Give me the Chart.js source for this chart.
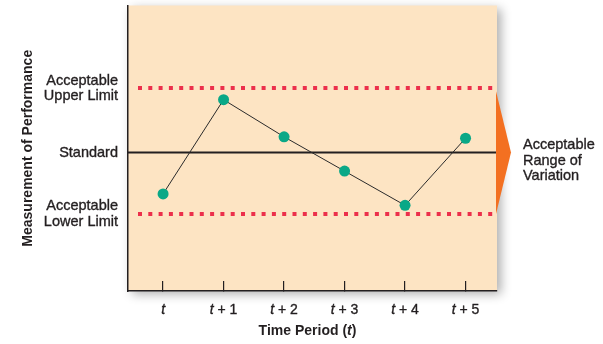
<!DOCTYPE html>
<html>
<head>
<meta charset="utf-8">
<script src="https://cdn.jsdelivr.net/npm/chart.js@4/dist/chart.umd.min.js"></script>
<style>
  body { margin: 0; background: #fff; }
</style>
</head>
<body>
<canvas id="controlChart" width="603" height="344"></canvas>
<script>
// Time periods along the bottom and measured performance in each period
const periodLabels = ['t', 't + 1', 't + 2', 't + 3', 't + 4', 't + 5'];
const performance = [34, 67, 54, 42, 30, 53.5];

// Control limits on the performance scale
const upperLimit = 71;
const standardLevel = 48.5;
const lowerLimit = 27;
const limitTickValues = [lowerLimit, standardLevel, upperLimit];
const limitTickLabels = [['Acceptable', 'Lower Limit'], 'Standard', ['Acceptable', 'Upper Limit']];
const rangeLabel = ['Acceptable', 'Range of', 'Variation'];

const FONT = "'Liberation Sans', Arial, Helvetica, sans-serif";
const INK = '#231f20';
const PANEL = '#fde4c3';
const LABEL_SIZE = 14.5;

// Peach panel with a soft drop shadow behind the plot
const panelPlugin = {
  id: 'panel',
  beforeDraw(chart) {
    const { ctx, chartArea: a } = chart;
    ctx.save();
    ctx.shadowColor = 'rgba(0,0,0,0.32)';
    ctx.shadowBlur = 10;
    ctx.shadowOffsetX = 4;
    ctx.shadowOffsetY = 3;
    ctx.fillStyle = PANEL;
    ctx.fillRect(a.left, a.top, a.right - a.left, a.bottom - a.top);
    ctx.restore();
  }
};

// Standard line and dotted upper/lower limits
const limitsPlugin = {
  id: 'limits',
  beforeDatasetsDraw(chart) {
    const { ctx, chartArea: a, scales: { y } } = chart;
    ctx.save();
    ctx.strokeStyle = '#ec2f4b';
    ctx.lineWidth = 4;
    ctx.setLineDash([4, 6.3]);
    ctx.lineCap = 'butt';
    [upperLimit, lowerLimit].forEach(v => {
      const py = Math.round(y.getPixelForValue(v));
      ctx.beginPath();
      ctx.moveTo(a.left + 10, py);
      ctx.lineTo(a.right - 4, py);
      ctx.stroke();
    });
    ctx.setLineDash([]);
    ctx.strokeStyle = INK;
    ctx.lineWidth = 2;
    const sy = y.getPixelForValue(standardLevel);
    ctx.beginPath();
    ctx.moveTo(a.left, sy);
    ctx.lineTo(a.right, sy);
    ctx.stroke();
    ctx.restore();
  }
};

// Period labels with an italic t, axis title, and the range arrow on the right
const annotatePlugin = {
  id: 'annotate',
  afterDraw(chart) {
    const { ctx, chartArea: a, scales: { x, y } } = chart;
    ctx.save();
    ctx.fillStyle = INK;
    ctx.strokeStyle = INK;
    ctx.lineWidth = 0.35;
    ctx.textBaseline = 'middle';

    const drawRuns = (runs, cx, cy) => {
      let total = 0;
      runs.forEach(r => { ctx.font = r.font; total += ctx.measureText(r.text).width; });
      let px = cx - total / 2;
      ctx.textAlign = 'left';
      runs.forEach(r => {
        ctx.font = r.font;
        ctx.fillText(r.text, px, cy);
        if (!r.font.includes('bold')) ctx.strokeText(r.text, px, cy);
        px += ctx.measureText(r.text).width;
      });
    };

    periodLabels.forEach((lbl, i) => {
      drawRuns([
        { text: lbl.slice(0, 1), font: 'italic 14px ' + FONT },
        { text: lbl.slice(1), font: '14px ' + FONT }
      ], x.getPixelForValue(i), a.bottom + 19);
    });

    drawRuns([
      { text: 'Time Period (', font: 'bold 14px ' + FONT },
      { text: 't', font: 'italic bold 14px ' + FONT },
      { text: ')', font: 'bold 14px ' + FONT }
    ], (a.left + a.right) / 2 - 5, a.bottom + 40);

    // orange arrow spanning the acceptable range
    const yu = y.getPixelForValue(upperLimit) + 3;
    const ys = y.getPixelForValue(standardLevel);
    const yl = y.getPixelForValue(lowerLimit);
    ctx.fillStyle = '#f37021';
    ctx.beginPath();
    ctx.moveTo(a.right - 1, yu);
    ctx.lineTo(a.right + 14, ys);
    ctx.lineTo(a.right - 1, yl);
    ctx.closePath();
    ctx.fill();

    ctx.fillStyle = INK;
    ctx.font = LABEL_SIZE + 'px ' + FONT;
    ctx.textAlign = 'left';
    rangeLabel.forEach((line, i) => {
      const ty = ys - 7.5 + i * 15.5;
      ctx.fillText(line, a.right + 26, ty);
      ctx.strokeText(line, a.right + 26, ty);
    });
    ctx.restore();
  }
};

new Chart(document.getElementById('controlChart'), {
  type: 'line',
  data: {
    datasets: [{
      data: performance.map((v, i) => ({ x: i, y: v })),
      borderColor: '#2b2b2b',
      borderWidth: 1,
      pointRadius: 5.5,
      pointBackgroundColor: '#0aa887',
      pointBorderWidth: 0,
      tension: 0
    }]
  },
  options: {
    responsive: false,
    animation: false,
    layout: { padding: { top: 5, right: 106, left: 0, bottom: 0 } },
    plugins: { legend: { display: false }, tooltip: { enabled: false } },
    scales: {
      x: {
        type: 'linear',
        min: -0.58,
        max: 5.52,
        afterBuildTicks: s => { s.ticks = periodLabels.map((_, i) => ({ value: i })); },
        afterFit: s => { s.height = 53; s.paddingLeft = 0; s.paddingRight = 0; },
        ticks: { display: false },
        grid: { drawOnChartArea: false, tickLength: -10, color: INK, lineWidth: 1.2 },
        border: { color: INK, width: 1.5 }
      },
      y: {
        min: 0,
        max: 100,
        afterBuildTicks: s => { s.ticks = limitTickValues.map(v => ({ value: v })); },
        afterFit: s => { s.width = 128; s.paddingTop = 0; s.paddingBottom = 0; },
        ticks: {
          padding: 10,
          color: INK,
          textStrokeColor: INK,
          textStrokeWidth: 0.35,
          font: { family: FONT, size: LABEL_SIZE, lineHeight: 1.05 },
          callback: (v, i) => limitTickLabels[i]
        },
        grid: { display: false, drawTicks: false },
        border: { color: INK, width: 1.5 },
        title: {
          display: true,
          text: 'Measurement of Performance',
          color: INK,
          font: { family: FONT, size: 14, weight: 'bold' },
          padding: { top: 20, bottom: 0 }
        }
      }
    }
  },
  plugins: [panelPlugin, limitsPlugin, annotatePlugin]
});
</script>
</body>
</html>
